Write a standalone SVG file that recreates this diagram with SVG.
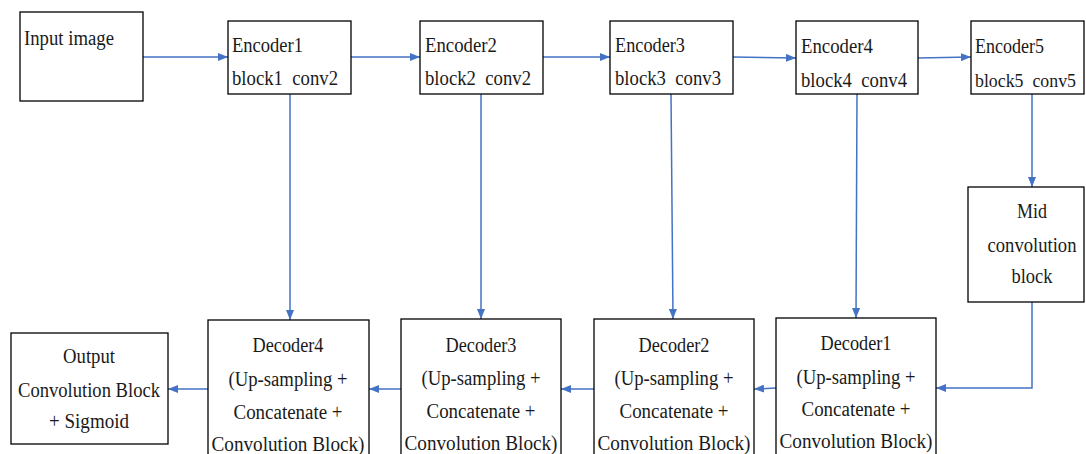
<svg xmlns="http://www.w3.org/2000/svg" width="1086" height="454" viewBox="0 0 1086 454">
<style>
.box{fill:#fff;stroke:#000;stroke-width:1.3}
.t{font-family:"Liberation Serif","Times New Roman","DejaVu Serif",serif;font-size:20px;fill:#1a1a1a}
.c{text-anchor:middle}
.ln{fill:none;stroke:#4472C4;stroke-width:1.5}
</style>
<defs>
<marker id="ah" viewBox="0 0 10 8" refX="10" refY="4" markerWidth="10" markerHeight="8" markerUnits="userSpaceOnUse" orient="auto">
<path d="M0,0 L10,4 L0,8 z" fill="#4472C4"/>
</marker>
</defs>
<rect width="1086" height="454" fill="#fff"/>
<g id="connectors">
<line class="ln" x1="143" y1="57" x2="228" y2="57" marker-end="url(#ah)"/>
<line class="ln" x1="351" y1="57" x2="420" y2="57" marker-end="url(#ah)"/>
<line class="ln" x1="543" y1="57" x2="610" y2="57" marker-end="url(#ah)"/>
<line class="ln" x1="733" y1="57" x2="796" y2="58" marker-end="url(#ah)"/>
<line class="ln" x1="918" y1="58" x2="971" y2="57" marker-end="url(#ah)"/>
<line class="ln" x1="1032" y1="94" x2="1032" y2="187" marker-end="url(#ah)"/>
<line class="ln" x1="290" y1="94" x2="290" y2="320" marker-end="url(#ah)"/>
<line class="ln" x1="481" y1="94" x2="481" y2="319" marker-end="url(#ah)"/>
<line class="ln" x1="671" y1="94" x2="673" y2="319" marker-end="url(#ah)"/>
<line class="ln" x1="857" y1="94" x2="856" y2="318" marker-end="url(#ah)"/>
<polyline class="ln" points="1032,302 1032,388 936,388" marker-end="url(#ah)"/>
<line class="ln" x1="776" y1="388" x2="754" y2="389" marker-end="url(#ah)"/>
<line class="ln" x1="594" y1="389" x2="561" y2="389" marker-end="url(#ah)"/>
<line class="ln" x1="401" y1="389" x2="369" y2="389" marker-end="url(#ah)"/>
<line class="ln" x1="208" y1="389" x2="168" y2="389" marker-end="url(#ah)"/>
</g>
<g id="input">
<rect class="box" x="20" y="12" width="123" height="89"/>
<text class="t" x="24" y="45" textLength="90" lengthAdjust="spacingAndGlyphs">Input image</text>
</g>
<g id="enc1">
<rect class="box" x="228" y="21" width="123" height="73"/>
<text class="t" x="232" y="52" textLength="71" lengthAdjust="spacingAndGlyphs">Encoder1</text>
<text class="t" x="232" y="85" textLength="106" lengthAdjust="spacingAndGlyphs" xml:space="preserve">block1  conv2</text>
</g>
<g id="enc2">
<rect class="box" x="420" y="21" width="123" height="73"/>
<text class="t" x="425" y="52" textLength="72" lengthAdjust="spacingAndGlyphs">Encoder2</text>
<text class="t" x="425" y="85" textLength="106" lengthAdjust="spacingAndGlyphs" xml:space="preserve">block2  conv2</text>
</g>
<g id="enc3">
<rect class="box" x="610" y="21" width="123" height="73"/>
<text class="t" x="615" y="52" textLength="70" lengthAdjust="spacingAndGlyphs">Encoder3</text>
<text class="t" x="615" y="85" textLength="106" lengthAdjust="spacingAndGlyphs" xml:space="preserve">block3  conv3</text>
</g>
<g id="enc4">
<rect class="box" x="796" y="21" width="122" height="73"/>
<text class="t" x="801" y="53" textLength="72" lengthAdjust="spacingAndGlyphs">Encoder4</text>
<text class="t" x="801" y="87" textLength="106" lengthAdjust="spacingAndGlyphs" xml:space="preserve">block4  conv4</text>
</g>
<g id="enc5">
<rect class="box" x="971" y="21" width="113" height="73"/>
<text class="t" x="975" y="53" textLength="69" lengthAdjust="spacingAndGlyphs">Encoder5</text>
<text class="t" x="975" y="87" style="font-size:18px" textLength="101" lengthAdjust="spacingAndGlyphs" xml:space="preserve">block5  conv5</text>
</g>
<g id="mid">
<rect class="box" x="968" y="187" width="116" height="115"/>
<text class="t c" x="1032" y="218" textLength="30" lengthAdjust="spacingAndGlyphs">Mid</text>
<text class="t c" x="1032" y="252" textLength="89" lengthAdjust="spacingAndGlyphs">convolution</text>
<text class="t c" x="1032" y="283" textLength="41" lengthAdjust="spacingAndGlyphs">block</text>
</g>
<g id="dec1">
<rect class="box" x="776" y="318" width="160" height="150"/>
<text class="t c" x="856" y="350" textLength="71" lengthAdjust="spacingAndGlyphs">Decoder1</text>
<text class="t c" x="856" y="384" textLength="119" lengthAdjust="spacingAndGlyphs">(Up-sampling +</text>
<text class="t c" x="856" y="416" textLength="109" lengthAdjust="spacingAndGlyphs">Concatenate +</text>
<text class="t c" x="856" y="448" textLength="153" lengthAdjust="spacingAndGlyphs">Convolution Block)</text>
</g>
<g id="dec2">
<rect class="box" x="594" y="319" width="160" height="150"/>
<text class="t c" x="674" y="352" textLength="71" lengthAdjust="spacingAndGlyphs">Decoder2</text>
<text class="t c" x="674" y="385" textLength="119" lengthAdjust="spacingAndGlyphs">(Up-sampling +</text>
<text class="t c" x="674" y="418" textLength="109" lengthAdjust="spacingAndGlyphs">Concatenate +</text>
<text class="t c" x="674" y="450" textLength="153" lengthAdjust="spacingAndGlyphs">Convolution Block)</text>
</g>
<g id="dec3">
<rect class="box" x="401" y="319" width="160" height="150"/>
<text class="t c" x="481" y="352" textLength="71" lengthAdjust="spacingAndGlyphs">Decoder3</text>
<text class="t c" x="481" y="385" textLength="119" lengthAdjust="spacingAndGlyphs">(Up-sampling +</text>
<text class="t c" x="481" y="418" textLength="109" lengthAdjust="spacingAndGlyphs">Concatenate +</text>
<text class="t c" x="481" y="450" textLength="153" lengthAdjust="spacingAndGlyphs">Convolution Block)</text>
</g>
<g id="dec4">
<rect class="box" x="208" y="320" width="161" height="150"/>
<text class="t c" x="288" y="352" textLength="71" lengthAdjust="spacingAndGlyphs">Decoder4</text>
<text class="t c" x="288" y="386" textLength="119" lengthAdjust="spacingAndGlyphs">(Up-sampling +</text>
<text class="t c" x="288" y="419" textLength="109" lengthAdjust="spacingAndGlyphs">Concatenate +</text>
<text class="t c" x="288" y="451" textLength="153" lengthAdjust="spacingAndGlyphs">Convolution Block)</text>
</g>
<g id="output">
<rect class="box" x="11" y="333" width="157" height="111"/>
<text class="t c" x="89" y="363" textLength="52" lengthAdjust="spacingAndGlyphs">Output</text>
<text class="t c" x="89" y="397" textLength="142" lengthAdjust="spacingAndGlyphs">Convolution Block</text>
<text class="t c" x="89" y="428" textLength="80" lengthAdjust="spacingAndGlyphs">+ Sigmoid</text>
</g>
</svg>
